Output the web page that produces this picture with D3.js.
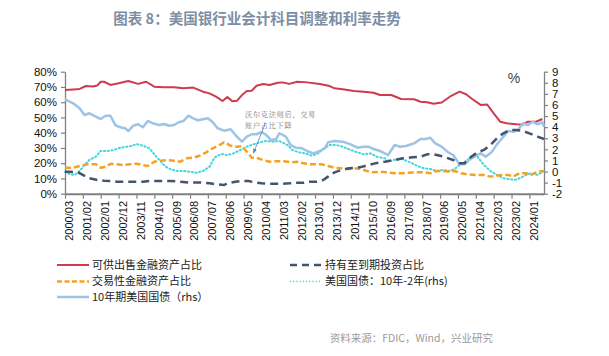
<!DOCTYPE html>
<html><head><meta charset="utf-8">
<script src="https://cdn.jsdelivr.net/npm/d3@7/dist/d3.min.js"></script>
<style>
html,body{margin:0;padding:0;background:#fff;}
svg{display:block;}
</style></head>
<body><svg id="c" width="609" height="356"></svg>
<script>
// x values are months counted from 2000/03
const tickLabels = ["2000/03","2001/02","2002/01","2002/12","2003/11","2004/10","2005/09","2006/08","2007/07","2008/06","2009/05","2010/04","2011/03","2012/02","2013/01","2013/12","2014/11","2015/10","2016/09","2017/08","2018/07","2019/06","2020/05","2021/04","2022/03","2023/02","2024/01"];
const tickMonths = tickLabels.map((d,i)=>i*11);
const lastMonth = 295;

// 可供出售金融资产占比 (%)
const afsMonths = [0,5,9,13,17,20,22,24,28,33,39,45,50,55,61,67,73,79,85,89,93,97,100,103,106,109,112,115,118,122,126,131,134,138,143,149,157,163,166,171,178,184,190,194,201,207,215,219,223,227,232,237,243,247,251,256,260,264,268,272,278,282,285,290,294];
const afsValues = [68,68.4,68.7,70.6,70.3,71,73.4,73.4,71.3,72.4,73.9,72,73.4,70.2,69.8,69.8,69.2,69.6,66.9,65.8,63.6,60.8,63.4,60.6,61,64.7,67.3,67.5,70.8,71.9,71.3,72.8,73,72,73.4,73,71.9,70.6,69.1,68.5,67.3,66.9,66.2,64.7,64.7,62.1,61.9,60.3,59.9,59,59.8,63.6,66.9,65.2,61.9,58.2,58.5,52.7,47.2,46.2,45.5,45.3,47.2,47.2,49];

// 持有至到期投资占比 (%)
const htmMonths = [0,3,8,11,15,20,24,28,32,40,48,52,59,65,71,77,83,89,93,98,100,105,109,113,117,121,125,129,134,138,142,147,151,155,159,162,166,170,175,179,183,187,191,194,197,203,208,214,219,223,227,231,235,239,243,246,249,254,258,262,266,270,274,278,282,286,291,295];
const htmValues = [14.4,14.4,14,12.3,10.1,9,8.5,8.3,7.9,7.9,7.9,8.3,8.3,8.3,7.9,7.2,7.4,6.8,6.2,5.7,6.8,7.9,8.3,8.3,7.4,6.8,6.5,6.5,6.5,6.8,7.2,7.2,7.9,7.9,9,11.2,14,15.5,16.7,17,17.7,18.8,19.9,20.6,21,22.1,23.2,23.9,24.3,25.8,25.8,24.9,23.6,22.1,19.9,19.9,23.2,27.1,28.7,31.9,36.3,39.6,41.8,41.8,41.1,39.6,37.4,35.9];

// 交易性金融资产占比 (%)
const tradMonths = [0,5,10,14,19,22,25,28,32,36,40,44,48,51,55,59,63,67,71,75,79,83,87,91,96,98,102,106,109,112,115,118,122,126,130,135,139,143,147,151,155,158,162,166,170,175,178,182,186,190,194,198,203,208,215,221,225,229,233,237,240,244,248,253,258,262,265,269,273,276,280,284,287,291,295];
const tradValues = [17,17,18.4,19.3,19.3,17,17.7,19.5,19.3,18.8,19.3,19.7,18.8,18.2,21,21.6,22.1,21.6,21,23.2,23.6,24.9,27.1,29.8,32.4,33.7,31.5,30.8,31.1,27.5,23.6,23.6,22.1,21,21.3,21.3,20.6,21,19.9,19.3,19.3,19.3,18.2,17,16.7,16.2,16.7,16.2,14.9,14,14.4,14,13.4,13.4,14,14,13.4,14.9,14.9,14.4,14.9,13.4,12.7,12.3,12.3,11.2,11.6,12.3,12.3,11.2,13.4,13.4,12.3,14.4,14.9];

// 美国国债：10年-2年 (%, rhs)
const spreadMonths = [0,3,6,9,12,15,19,22,26,30,34,38,41,44,48,52,55,59,62,65,69,73,77,81,85,89,92,96,100,104,108,112,116,120,124,128,132,137,140,144,148,152,156,159,163,167,171,176,180,184,188,192,197,199,204,208,213,217,221,225,229,233,237,240,243,247,251,254,258,262,266,270,273,277,280,284,287,291,295];
const spreadValues = [-0.02,-0.25,-0.31,0.05,0.59,1.04,1.34,1.85,1.85,1.94,2.15,2.24,2.3,2.48,2.33,2.09,1.55,0.89,0.43,0.2,0.05,0.05,-0.02,-0.11,0.05,0.43,1.25,1.58,1.49,1.64,1.94,2.24,2.45,2.63,2.75,2.69,2.75,2.39,1.94,1.73,1.64,1.43,1.64,2.03,2.39,2.39,2.24,1.94,1.73,1.55,1.64,1.34,1.19,0.89,1.1,1.1,0.8,0.5,0.29,0.23,0.05,0.14,0.05,0.23,0.59,0.95,1.43,1.34,0.59,0.05,-0.31,-0.61,-0.67,-0.76,-0.61,-0.31,-0.16,-0.31,0.05];

// 10年期美国国债 (%, rhs)
const t10Months = [0,5,9,12,15,19,22,25,28,31,34,37,39,42,45,48,51,54,58,61,64,67,70,73,76,79,82,85,88,91,94,98,102,105,109,112,115,118,121,124,127,130,132,136,139,142,146,149,153,157,160,162,166,171,176,180,184,187,190,194,197,199,203,206,210,215,219,222,225,228,232,236,239,243,246,249,253,256,259,263,266,270,273,276,279,282,285,288,291,294,295];
const t10Values = [6.51,6.15,5.7,5.1,5.25,4.94,4.73,5.03,5.03,4.19,3.99,3.9,3.65,4.13,4.26,3.99,4.56,4.35,4.19,4.28,4.13,4.19,4.44,4.56,5.03,4.8,4.62,4.71,4.8,4.44,3.9,3.68,3.81,3.29,2.69,3.14,3.36,3.36,3.56,3.29,2.84,2.93,3.45,3.14,2.39,2.15,2.09,1.85,1.64,1.85,2.09,2.63,2.75,2.69,2.45,2.15,2.24,2.24,2.03,1.85,1.64,1.49,2.39,2.24,2.3,2.54,2.93,2.93,3.05,2.54,2.24,1.73,1.49,0.65,0.65,1.04,1.43,1.64,1.34,1.79,2.45,3.14,3.65,3.59,3.74,4.35,4.19,4.49,4.26,4.44,4.04];

const leftTicks = [0,10,20,30,40,50,60,70,80];
const rightTicks = [-2,-1,0,1,2,3,4,5,6,7,8,9];

const svg = d3.select("#c");
const X0 = 65, X1 = 544, YT = 71.7, YB = 193.7;
const x = d3.scaleLinear().domain([0, lastMonth]).range([X0, X1]);
const yL = d3.scaleLinear().domain([0, 80]).range([YB, YT]);
const yR = d3.scaleLinear().domain([-2, 9]).range([YB, YT]);

const latin = "'Liberation Sans', Arial, sans-serif";
const cjk = "'Noto Sans CJK SC', 'Noto Sans', sans-serif";

// title
svg.append("text").attr("x", 257).attr("y", 24).attr("text-anchor", "middle")
  .attr("font-family", cjk).attr("font-weight", "bold").attr("font-size", 14.5)
  .attr("fill", "#7d8ea4").text("图表 8：美国银行业会计科目调整和利率走势");

// axes
const axisColor = "#808080";
const gL = svg.append("g").attr("transform", `translate(${X0},0)`)
  .call(d3.axisLeft(yL).tickValues(leftTicks).tickFormat(d => d + "%").tickSize(4).tickSizeOuter(0));
const gR = svg.append("g").attr("transform", `translate(${X1},0)`)
  .call(d3.axisRight(yR).tickValues(rightTicks).tickFormat(d => d).tickSize(4).tickSizeOuter(0));
const gX = svg.append("g").attr("transform", `translate(0,${YB})`)
  .call(d3.axisBottom(x).tickValues(tickMonths).tickFormat(() => "").tickSize(5).tickSizeOuter(0));
[gL, gR, gX].forEach(g => {
  g.selectAll("path").attr("stroke", axisColor).attr("stroke-width", 1.3);
  g.selectAll("line").attr("stroke", axisColor).attr("stroke-width", 1.2);
  g.selectAll("text").attr("font-family", latin).attr("font-size", 11.5).attr("fill", "#111");
});
gX.select("path").attr("stroke-width", 2);
gL.selectAll("text").attr("x", -8);
gR.selectAll("text").attr("x", 8);

// x labels rotated
svg.append("g").selectAll("text").data(tickLabels).join("text")
  .attr("transform", (d,i) => `translate(${x(tickMonths[i]) + 4.5},201) rotate(-90)`)
  .attr("text-anchor", "end").attr("dy", "0.35em")
  .attr("font-family", latin).attr("font-size", 11).attr("fill", "#111")
  .text(d => d);

// series
const series = [
  {m: afsMonths, v: afsValues, y: yL, color: "#cf3a4c", w: 2, dash: null},
  {m: spreadMonths, v: spreadValues, y: yR, color: "#3fd6dc", w: 2, dash: "1.2,2.6"},
  {m: t10Months, v: t10Values, y: yR, color: "#9dc3e6", w: 2.5, dash: null},
  {m: tradMonths, v: tradValues, y: yL, color: "#f4a126", w: 2.5, dash: "6,3"},
  {m: htmMonths, v: htmValues, y: yL, color: "#44546a", w: 2.5, dash: "8,5"}
];
series.forEach(s => {
  const pts = s.m.map((m,i) => [m, s.v[i]]);
  const line = d3.line().x(d => x(d[0])).y(d => s.y(d[1]));
  svg.append("path").attr("d", line(pts)).attr("fill", "none")
    .attr("stroke", s.color).attr("stroke-width", s.w)
    .attr("stroke-dasharray", s.dash).attr("stroke-linejoin", "round")
    .attr("stroke-linecap", s.dash && s.dash.startsWith("1.") ? "round" : "butt");
});

// % unit label
svg.append("text").attr("x", 514).attr("y", 83).attr("text-anchor", "middle")
  .attr("font-family", latin).attr("font-size", 14).attr("fill", "#444").text("%");

// annotation
svg.append("defs").append("marker").attr("id", "ah").attr("viewBox", "0 0 10 10")
  .attr("refX", 9).attr("refY", 5).attr("markerWidth", 6).attr("markerHeight", 6).attr("orient", "auto")
  .append("path").attr("d", "M0,1 L10,5 L0,9 z").attr("fill", "#4f81bd");
svg.append("line").attr("x1", 265.5).attr("y1", 123).attr("x2", 253.5).attr("y2", 153)
  .attr("stroke", "#4f81bd").attr("stroke-width", 0.8).attr("marker-end", "url(#ah)");
const ann = ["沃尔克法则后，交易", "账户占比下降"];
ann.forEach((t,i) => svg.append("text").attr("x", 245).attr("y", 117 + i*11)
  .attr("font-family", "'Noto Serif CJK SC', 'Noto Sans CJK SC', serif").attr("font-size", 7.2)
  .attr("letter-spacing", 0.7).attr("fill", "#777").text(t));

// legend
const legend = [
  {label: "可供出售金融资产占比", color: "#cf3a4c", w: 2, dash: null, x: 57, y: 265},
  {label: "持有至到期投资占比", color: "#44546a", w: 2.5, dash: "7,5", x: 290, y: 265},
  {label: "交易性金融资产占比", color: "#f4a126", w: 2.5, dash: "5,2.5", x: 57, y: 281.5},
  {label: "美国国债：10年-2年(rhs)", color: "#3fd6dc", w: 1.5, dash: "1.2,2", x: 290, y: 281.5},
  {label: "10年期美国国债（rhs）", color: "#9dc3e6", w: 2.5, dash: null, x: 57, y: 297}
];
legend.forEach(l => {
  svg.append("line").attr("x1", l.x).attr("x2", l.x + 32).attr("y1", l.y).attr("y2", l.y)
    .attr("stroke", l.color).attr("stroke-width", l.w).attr("stroke-dasharray", l.dash);
  svg.append("text").attr("x", l.x + 35).attr("y", l.y).attr("dy", "0.36em")
    .attr("font-family", cjk).attr("font-size", 11).attr("fill", "#222").text(l.label);
});

// source
svg.append("text").attr("x", 493).attr("y", 338).attr("dy", "0.35em").attr("text-anchor", "end")
  .attr("font-family", cjk).attr("font-size", 10.5).attr("fill", "#9a9a9a")
  .text("资料来源：FDIC，Wind，兴业研究");
</script></body></html>
